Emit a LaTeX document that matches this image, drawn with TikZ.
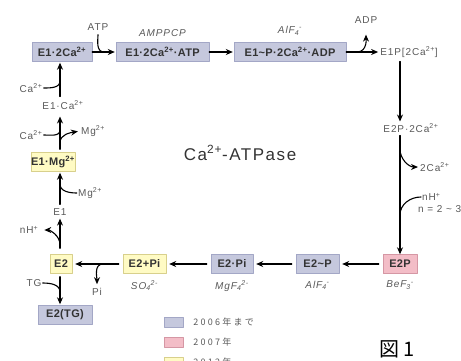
\documentclass[tikz,border=0pt]{standalone}
\usepackage{fontspec}
\setmainfont{Liberation Sans}
\newfontfamily\boxfont{Liberation Sans}[LetterSpace=3]
\newfontfamily\spfont{Liberation Sans}[LetterSpace=9]
\newfontfamily\jpfont{Noto Sans CJK JP}
\newfontfamily\legfont{Noto Sans CJK JP}[LetterSpace=25]
\usetikzlibrary{arrows.meta,positioning}
\definecolor{oldfill}{HTML}{C5C8DD}
\definecolor{oldline}{HTML}{A3A7C6}
\definecolor{newfill}{HTML}{F3BDC7}
\definecolor{newline}{HTML}{D597A4}
\definecolor{yelfill}{HTML}{FFFBC4}
\definecolor{yelline}{HTML}{D8D08C}
\newcommand\sps[1]{\textsuperscript{#1}}
\newcommand\ion[2]{\textsubscript{#1}\textsuperscript{#2}}
\begin{document}
\begin{tikzpicture}[x=1pt, y=1pt, line join=round, line cap=round,
    >={Stealth[length=7pt,width=6pt]},
    box/.style={rectangle, inner sep=0pt, minimum height=19pt, text=black!80,
      font=\boxfont\bfseries\fontsize{11}{12}\selectfont},
    old/.style={box, fill=oldfill, draw=oldline},
    new/.style={box, fill=newfill, draw=newline},
    newer/.style={box, fill=yelfill, draw=yelline},
    lbl/.style={inner sep=1pt, text=black!65, font=\spfont\fontsize{10}{11}\selectfont},
    inh/.style={lbl, font=\spfont\itshape\fontsize{10}{11}\selectfont},
    arr/.style={->, line width=1.1pt},
    thk/.style={line width=1.1pt}]
\clip (0,0) rectangle (461,-360);
% states
\node[old, minimum width=60pt] (e1ca2) at (62,-52) {E1·2Ca\sps{2+}};
\node[old, minimum width=93pt] (e1atp) at (162.5,-52) {E1·2Ca\sps{2+}·ATP};
\node[old, minimum width=112pt] (e1padp) at (290,-52) {E1\textasciitilde P·2Ca\sps{2+}·ADP};
\node[lbl] (e1p) at (409,-52) {E1P[2Ca\sps{2+}]};
\node[lbl] (e2pca) at (411,-128) {E2P·2Ca\sps{2+}};
\node[new, minimum width=34pt] (e2p) at (400,-264) {E2P};
\node[old, minimum width=43pt] (e2sp) at (317.5,-264) {E2\textasciitilde P};
\node[old, minimum width=42pt] (e2pi) at (232,-264) {E2·Pi};
\node[newer, minimum width=43pt] (e2plpi) at (144.5,-264) {E2+Pi};
\node[newer, minimum width=22pt] (e2) at (61,-264) {E2};
\node[old, minimum width=54pt] (e2tg) at (65,-315) {E2(TG)};
\node[lbl] (e1) at (60,-212) {E1};
\node[newer, minimum width=40pt] (e1mg) at (53,-162) {E1·Mg\sps{2+}};
\node[lbl] (e1ca) at (63,-105) {E1·Ca\sps{2+}};
% ligands
\node[lbl] (atp) at (98,-27) {ATP};
\node[lbl] (adp) at (366,-20) {ADP};
\node[lbl, anchor=west] (caout) at (419,-167) {2Ca\sps{2+}};
\node[lbl, anchor=west] (nhin) at (421,-197) {nH\sps{+}};
\node[lbl, anchor=west] (nrange) at (417,-209) {n = 2 \textasciitilde{} 3};
\node[lbl] (nhout) at (29,-230) {nH\sps{+}};
\node[lbl] (mgin) at (90,-193) {Mg\sps{2+}};
\node[lbl] (mgout) at (93,-131) {Mg\sps{2+}};
\node[lbl] (cain) at (31,-135) {Ca\sps{2+}};
\node[lbl] (cain2) at (31,-88) {Ca\sps{2+}};
\node[lbl] (tg) at (34,-283) {TG};
\node[lbl] (pi) at (97,-292) {Pi};
\node[inh, above=5pt of e1atp] (amppcp) {AMPPCP};
\node[inh, above=6pt of e1padp] (alftop) {AlF\ion{4}{-}};
\foreach \n/\t in {e2p/BeF\ion{3}{-}, e2sp/AlF\ion{4}{-}, e2pi/MgF\ion{4}{2-}, e2plpi/SO\ion{4}{2-}}
  \node[inh, below=6pt of \n] (\n lig) {\t};
\node[text=black!80, font=\spfont\fontsize{17}{19}\selectfont] (title) at (240,-153) {Ca\sps{2+}-ATPase};
% junctions
\path
 (104,-52) coordinate (atpJ)
 (357,-52) coordinate (adpJ)
 (400,-149) coordinate (caoutJ)
 (400,-215) coordinate (nhinJ)
 (103,-264) coordinate (piJ)
 (60,-292) coordinate (tgJ)
 (60,-245) coordinate (nhoutJ)
 (60,-184) coordinate (mginJ)
 (60,-143) coordinate (mgoutJ)
 (60,-130) coordinate (cainJ)
 (60,-81) coordinate (cain2J);
% main cycle
\foreach \a/\b in {e1ca2/e1atp, e1atp/e1padp, e1padp/e1p}
  \draw[arr, shorten >=1pt] (\a) -- (\b);
\draw[arr, shorten <=3pt, shorten >=1pt] (e1p.south -| e2p) -- (e2pca.north -| e2p);
\draw[arr, shorten <=2pt] (e2pca.south -| e2p) -- (e2p.north);
\foreach \a/\b in {e2p/e2sp, e2sp/e2pi, e2pi/e2plpi, e2plpi/e2}
  \draw[arr, shorten <=4pt, shorten >=3pt] (\a) -- (\b);
\draw[arr, shorten <=3pt, shorten >=1pt] (e2.south -| e1) -- (e2tg.north -| e1);
\draw[arr, shorten <=6pt, shorten >=2pt] (e2.north -| e1) -- (e1);
\draw[arr, shorten <=3pt, shorten >=1pt] (e1.north) -- (e1mg.south -| e1);
\draw[arr, shorten <=3pt, shorten >=6pt] (e1mg.north -| e1) -- (e1ca.south -| e1);
\draw[arr, shorten <=3pt, shorten >=1pt] (e1ca.north -| e1) -- (e1ca2.south -| e1);
% side paths
\draw[thk, shorten <=3pt] (atp.south) to[out=-90, in=180] (atpJ);
\draw[arr, shorten >=10pt] (adpJ) to[out=0, in=-90] (adp.south);
\draw[arr, shorten >=1pt] (caoutJ) to[out=-90, in=180] (caout.west);
\draw[thk] (nhin.west) to[out=180, in=90] (nhinJ);
\draw[arr, shorten >=5pt] (nhoutJ) to[out=90, in=0] (nhout.east);
\draw[thk] (mgin.west) to[out=180, in=-90] (mginJ);
\draw[arr, shorten >=2pt] (mgoutJ) to[out=90, in=190] (mgout.west);
\draw[thk] (cain.east) to[out=0, in=-90] (cainJ);
\draw[thk] (cain2.east) to[out=0, in=-90] (cain2J);
\draw[thk] (tg.east) to[out=0, in=90] (tgJ);
\draw[arr, shorten >=3pt] (piJ) to[out=180, in=90] (pi.north);
% legend
\foreach \c/\d/\t [count=\i] in {oldfill/oldline/2006年まで, newfill/newline/2007年, yelfill/yelline/2012年} {
  \node[fill=\c, draw=\d, line width=.3pt, minimum width=19pt, minimum height=10pt, inner sep=0pt] (leg\i) at (173.5,-302-20*\i) {};
  \node[right=10pt of leg\i, inner sep=0pt, text=black!65, font=\legfont\fontsize{9}{10}\selectfont] (legt\i) {\t};
}
\node[font=\jpfont\fontsize{20}{22}\selectfont] (fig) at (397,-349) {図 1};
\end{tikzpicture}
\end{document}
